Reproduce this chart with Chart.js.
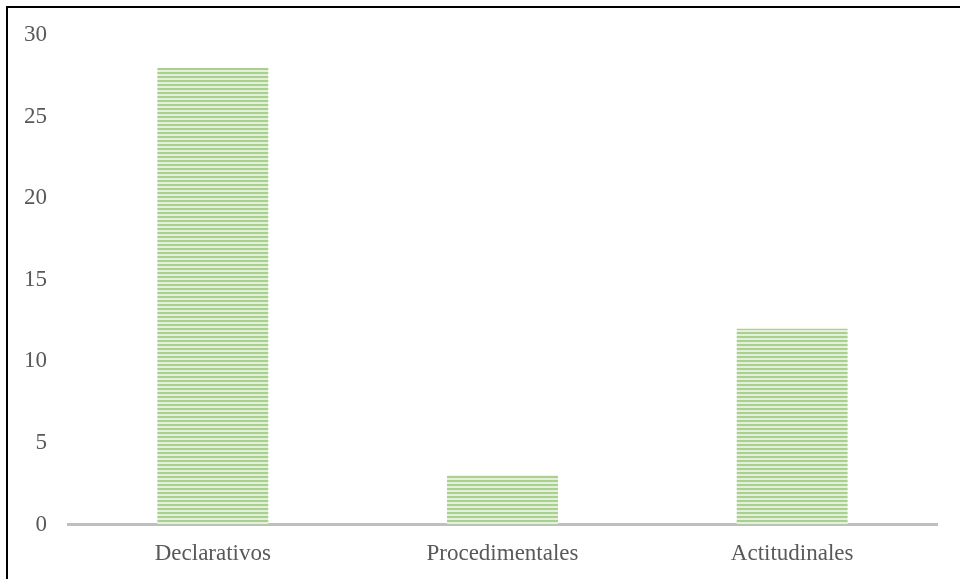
<!DOCTYPE html>
<html>
<head>
<meta charset="utf-8">
<script src="https://cdn.jsdelivr.net/npm/chart.js@4/dist/chart.umd.min.js"></script>
<style>
    html, body { margin: 0; padding: 0; background: #fff; }
    #wrap { width: 960px; height: 579px; position: relative; }
</style>
</head>
<body>
<div id="wrap"><canvas id="chart" width="960" height="579"></canvas></div>
<script>
const categories = ['Declarativos', 'Procedimentales', 'Actitudinales'];
const counts = [28, 3, 12];
const yTicks = [0, 5, 10, 15, 20, 25, 30];

/**
 * Builds the horizontal stripe fill used by the bars.
 */
function makeStripes() {
    const tile = document.createElement('canvas');
    tile.width = 4;
    tile.height = 4;
    const ctx = tile.getContext('2d');
    ctx.fillStyle = '#e4f0dc';
    ctx.fillRect(0, 0, 4, 4);
    ctx.fillStyle = '#a9d18e';
    ctx.fillRect(0, 0, 4, 2);
    return ctx.createPattern(tile, 'repeat');
}

// Frame line along the left and top of the picture
const framePlugin = {
    id: 'frame',
    afterDraw(chart) {
        const ctx = chart.ctx;
        ctx.save();
        ctx.strokeStyle = '#000';
        ctx.lineWidth = 2;
        ctx.beginPath();
        ctx.moveTo(7, 590);
        ctx.lineTo(7, 7);
        ctx.lineTo(970, 7);
        ctx.stroke();
        ctx.restore();
    }
};

const serif = "'Liberation Serif', 'Times New Roman', serif";

new Chart(document.getElementById('chart'), {
    type: 'bar',
    data: {
        labels: categories,
        datasets: [{
            data: counts,
            backgroundColor: makeStripes(),
            borderWidth: 0,
            barPercentage: 0.383,
            categoryPercentage: 1
        }]
    },
    options: {
        responsive: false,
        animation: false,
        layout: { padding: { top: 35, right: 23, left: 0, bottom: 0 } },
        plugins: { legend: { display: false }, tooltip: { enabled: false } },
        scales: {
            x: {
                grid: { display: false, drawTicks: false },
                border: { color: '#bfbfbf', width: 3 },
                ticks: { color: '#595959', font: { family: serif, size: 23 }, padding: 16 },
                afterFit(s) { s.height = 54.5; }
            },
            y: {
                min: 0,
                max: 30,
                afterBuildTicks(s) { s.ticks = yTicks.map(v => ({ value: v })); },
                grid: { display: false, drawTicks: false },
                border: { display: false },
                ticks: { color: '#595959', font: { family: serif, size: 23 }, padding: 21 },
                afterFit(s) { s.width = 68; }
            }
        }
    },
    plugins: [framePlugin]
});
</script>
</body>
</html>
